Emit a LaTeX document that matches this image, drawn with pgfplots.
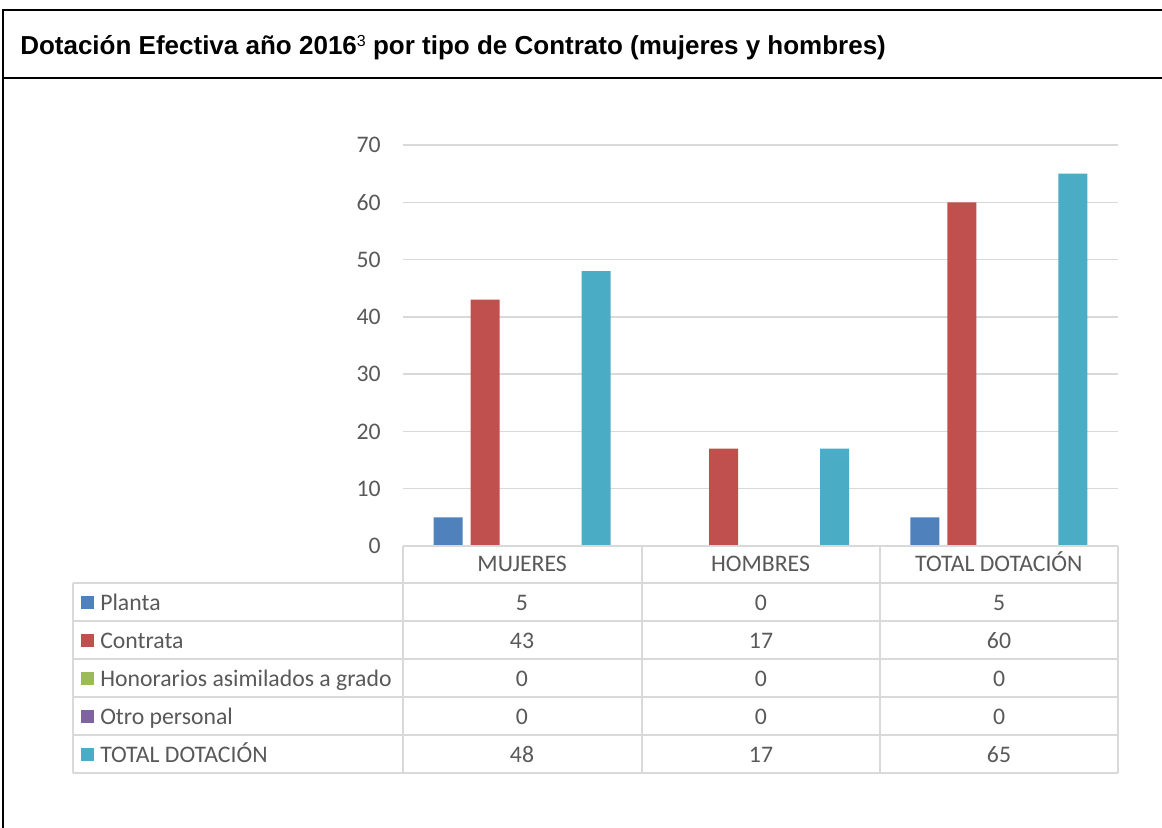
\documentclass[border=0pt]{standalone}
\usepackage{pgfplots}
\pgfplotsset{compat=1.18}
\usepackage{fontspec}
\setmainfont{Carlito}
\newfontfamily\arialf{Liberation Sans}
\definecolor{cPlanta}{HTML}{4F81BD}
\definecolor{cContrata}{HTML}{C0504D}
\definecolor{cHon}{HTML}{9BBB59}
\definecolor{cOtro}{HTML}{8064A2}
\definecolor{cTotal}{HTML}{4BACC6}
\definecolor{txt}{HTML}{595959}
\definecolor{grd}{HTML}{D9D9D9}
\newcommand\tf{\fontsize{17.8}{21}\selectfont}
\begin{document}
\begin{tikzpicture}
\begin{scope}[x=0.75pt,y=-0.75pt]
\path[use as bounding box] (0,0) rectangle (1162,827);
\clip (0,0) rectangle (1162,827);
\fill[white] (0,0) rectangle (1162,827);
% frame
\draw[black, line width=1.5pt] (3,1000) -- (3,10) -- (1300,10);
\draw[black, line width=1.5pt] (3,78) -- (1300,78);
\node[anchor=base west, inner sep=0pt] at (20,55) {\arialf\bfseries\fontsize{19.5}{23}\selectfont Dotación Efectiva año 2016{\mdseries\fontsize{12}{14}\selectfont\raisebox{6.5pt}{3}} por tipo de Contrato (mujeres y hombres)};
\begin{axis}[
  at={(302.25pt,-409.5pt)}, anchor=south west,
  scale only axis, width=536.25pt, height=300.75pt,
  ybar=6pt, bar width=21.75pt,
  xmin=-0.5, xmax=2.5, ymin=0, ymax=70,
  xtick={0,1,2}, xticklabels={MUJERES,HOMBRES,TOTAL DOTACIÓN},
  ytick={0,10,...,70},
  ymajorgrids, grid style={grd, line width=1.1pt},
  axis line style={draw=none}, major tick length=0pt,
  /pgf/number format/assume math mode=true,
  tick label style={font=\tf, text=txt, inner sep=0pt},
  yticklabel style={anchor=east, xshift=-16.5pt},
  xticklabel style={anchor=base, yshift=-19.3pt},
  clip=false,
]
\addplot[fill=cPlanta, draw=none] coordinates {(0,5) (1,0) (2,5)};
\addplot[fill=cContrata, draw=none] coordinates {(0,43) (1,17) (2,60)};
\addplot[fill=cHon, draw=none] coordinates {(0,0) (1,0) (2,0)};
\addplot[fill=cOtro, draw=none] coordinates {(0,0) (1,0) (2,0)};
\addplot[fill=cTotal, draw=none] coordinates {(0,48) (1,17) (2,65)};
\end{axis}
% data table
\begin{scope}[grd, line width=1.1pt]
\draw (403,546) -- (1118,546);
\foreach \y in {583,621,659,697,735,773} \draw (73,\y) -- (1118,\y);
\foreach \x in {403,642,880,1118} \draw (\x,546) -- (\x,773);
\draw (73,583) -- (73,773);
\end{scope}
\foreach \y/\c/\t in {602/cPlanta/Planta, 640/cContrata/Contrata, 678/cHon/Honorarios asimilados a grado, 716/cOtro/Otro personal, 754/cTotal/TOTAL DOTACIÓN}{
  \fill[\c] (81,\y-6) rectangle (94,\y+7);
  \node[anchor=base west, inner sep=0pt, text=txt, font=\tf] at (100,\y+8) {\t};
}
\foreach \y/\a/\b/\c in {602/5/0/5, 640/43/17/60, 678/0/0/0, 716/0/0/0, 754/48/17/65}{
  \node[anchor=base, text=txt, inner sep=0pt, font=\tf] at (522,\y+8) {\a};
  \node[anchor=base, text=txt, inner sep=0pt, font=\tf] at (761,\y+8) {\b};
  \node[anchor=base, text=txt, inner sep=0pt, font=\tf] at (999,\y+8) {\c};
}
\end{scope}
\end{tikzpicture}
\end{document}
